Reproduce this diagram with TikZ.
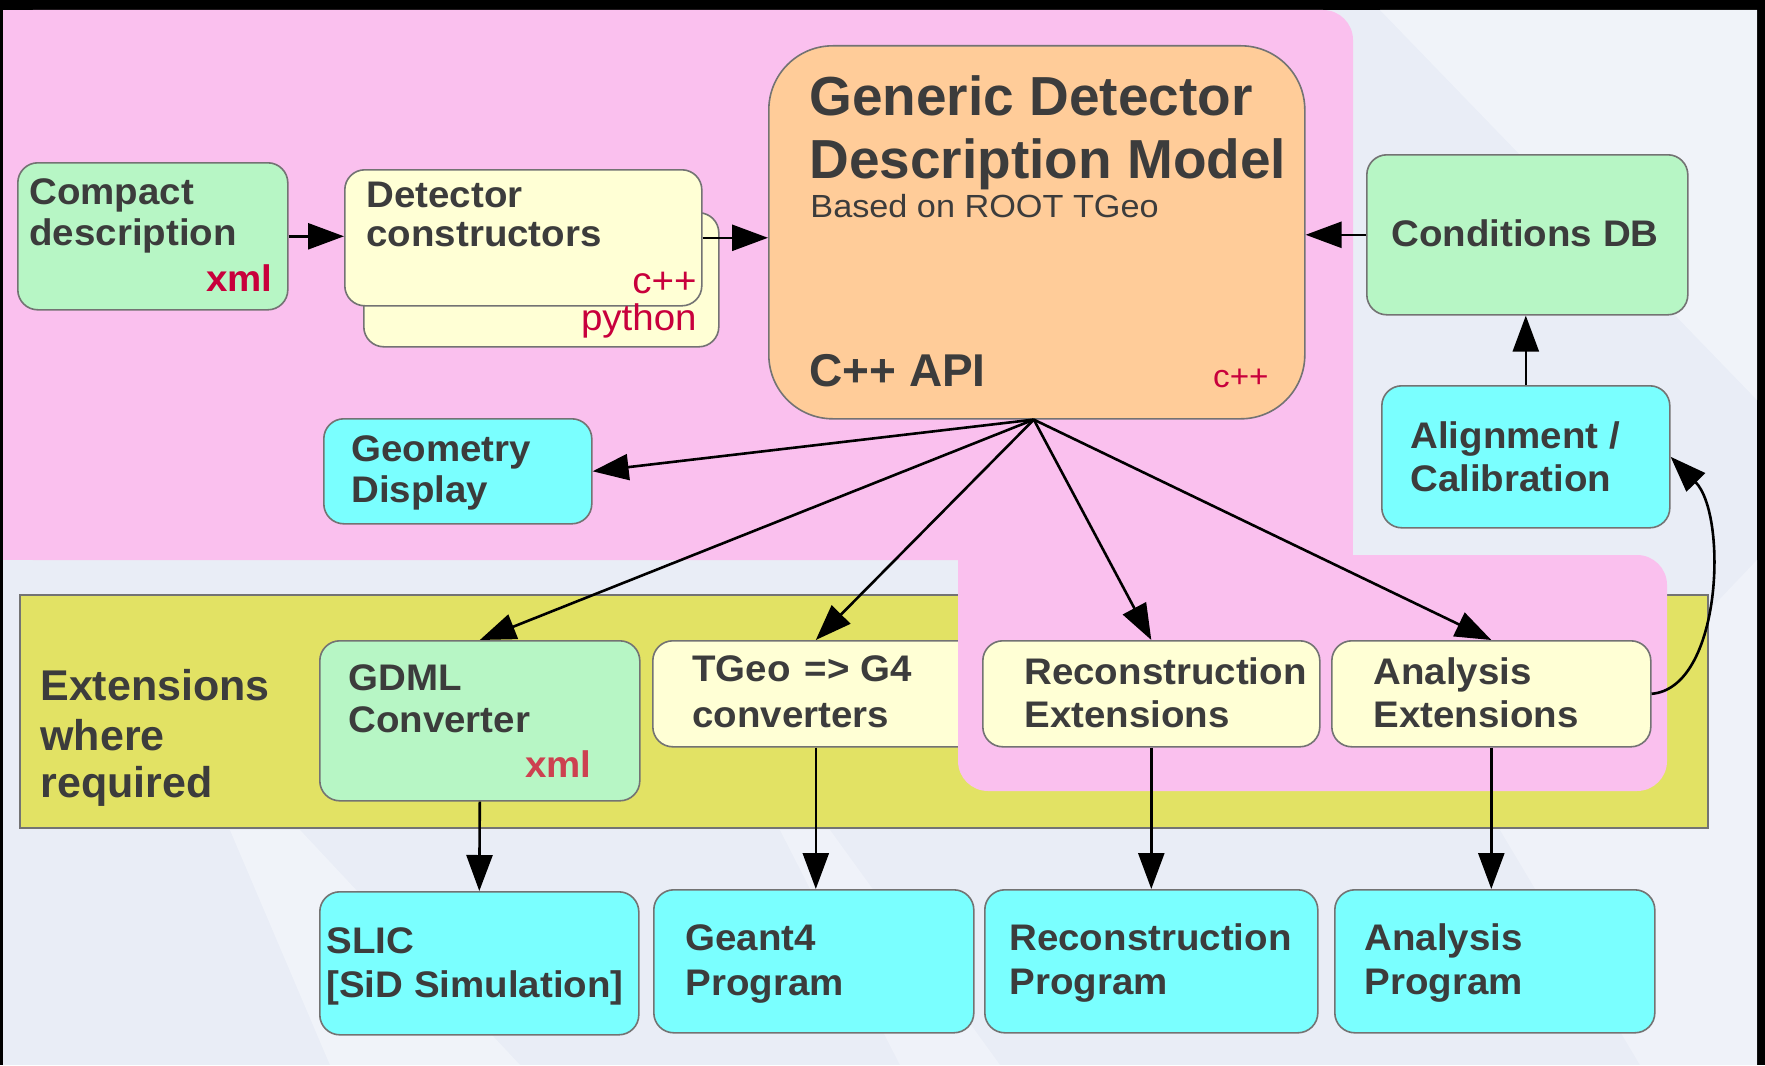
\documentclass[tikz,border=0pt]{standalone}
\usepackage{fontspec}
\setmainfont{Liberation Sans}
\newfontfamily\bodyfont{Liberation Sans}[FakeStretch=1.04]
\newfontfamily\basedfont{Liberation Sans}[FakeStretch=1.07]
\usetikzlibrary{arrows.meta}
\definecolor{bgc}{RGB}{233,237,246}
\definecolor{bglight}{RGB}{244,246,251}
\definecolor{pinkc}{RGB}{250,192,238}
\definecolor{yelc}{RGB}{226,226,100}
\definecolor{greenc}{RGB}{183,246,197}
\definecolor{creamc}{RGB}{255,255,213}
\definecolor{cyanc}{RGB}{122,255,255}
\definecolor{orangec}{RGB}{255,204,153}
\definecolor{txtc}{RGB}{60,60,60}
\definecolor{redc}{RGB}{200,0,60}
\definecolor{redb}{RGB}{205,65,80}
\definecolor{linec}{RGB}{115,115,115}
\begin{document}
\begin{tikzpicture}[x=0.5pt,y=-0.5pt,
  box/.style={draw=linec, line width=0.8pt, rounded corners=10pt, inner sep=0pt, anchor=north west},
  lbl/.style={inner sep=0pt, anchor=base west, text=txtc, font=\bodyfont\fontsize{18.5}{22}\selectfont\bfseries},
  biglbl/.style={inner sep=0pt, anchor=base west, text=txtc, font=\fontsize{21.5}{25}\selectfont\bfseries},
  titlelbl/.style={inner sep=0pt, anchor=base west, text=txtc, font=\fontsize{27.5}{32}\selectfont\bfseries},
  langb/.style={inner sep=0pt, anchor=base east, font=\bodyfont\fontsize{18.5}{22}\selectfont\bfseries},
  langr/.style={inner sep=0pt, anchor=base east, text=redc, font=\bodyfont\fontsize{18.5}{22}\selectfont},
  arr/.style={line width=1.3pt, -{Triangle[length=18pt,width=13pt]}},
]
\useasboundingbox (0,0) rectangle (1765,1065);
% frame and background
\fill[black] (0,0) rectangle (1765,1065);
\fill[bgc] (3,10) rectangle (1757,1065);
\fill[bglight, opacity=0.7] (1380,10) -- (1757,10) -- (1757,400) -- cycle;
\fill[bglight, opacity=0.7] (230,830) -- (300,830) -- (520,1065) -- (330,1065) -- cycle;
\fill[bglight, opacity=0.6] (780,830) -- (830,830) -- (1000,1065) -- (900,1065) -- cycle;
\fill[bglight, opacity=0.6] (1500,830) -- (1757,560) -- (1757,1065) -- (1640,1065) -- cycle;
% upper pink region
\fill[pinkc, rounded corners=15pt] (3,10) rectangle (1353,560);
\fill[pinkc] (3,10) rectangle (300,560);
\fill[pinkc] (3,300) rectangle (1353,560);
% yellow band
\fill[yelc, draw=linec, line width=0.6pt] (20,595) rectangle (1708,828);

% upper boxes
\node[box, fill=greenc, minimum width=135pt, minimum height=73.5pt] (compact) at (17,162) {};
\node[box, fill=creamc, minimum width=177.5pt, minimum height=67pt] (detb) at (363,212) {};
\node[box, fill=creamc, minimum width=178.5pt, minimum height=68pt] (detf) at (344,169) {};
\node[box, fill=orangec, rounded corners=32pt, minimum width=268pt, minimum height=186.5pt] (generic) at (768,45) {};
\node[box, fill=greenc, minimum width=160.5pt, minimum height=80pt] (cond) at (1366,154) {};
\node[box, fill=cyanc, minimum width=144pt, minimum height=71pt] (align) at (1381,385) {};
\node[box, fill=cyanc, minimum width=134pt, minimum height=52.5pt] (geom) at (323,418) {};

% middle row
\node[box, fill=greenc, minimum width=160pt, minimum height=80pt] (gdml) at (319,640) {};
\node[box, fill=creamc, minimum width=163pt, minimum height=53pt] (tgeo) at (652,640) {};

% lower pink region
\fill[pinkc, rounded corners=15pt] (958,555) rectangle (1667,791);
\fill[pinkc] (958,555) rectangle (1150,700);

\node[box, fill=creamc, minimum width=168.5pt, minimum height=53pt] (recext) at (982,640) {};
\node[box, fill=creamc, minimum width=159.5pt, minimum height=53pt] (anaext) at (1331,640) {};

% bottom row
\node[box, fill=cyanc, minimum width=159.5pt, minimum height=71.5pt] (slic) at (319,891) {};
\node[box, fill=cyanc, minimum width=160pt, minimum height=71.5pt] (geant) at (653,889) {};
\node[box, fill=cyanc, minimum width=166.5pt, minimum height=71.5pt] (recprog) at (984,889) {};
\node[box, fill=cyanc, minimum width=160pt, minimum height=71.5pt] (anaprog) at (1334,889) {};

% texts
\node[lbl] (t1) at (29,204) {Compact};
\node[lbl] (t2) at (29,245) {description};
\node[langb, text=redc] (t3) at (273,291) {xml};
\node[lbl] (t4) at (366,207) {Detector};
\node[lbl] (t5) at (366,246) {constructors};
\node[langr] (t6) at (697,293) {c++};
\node[langr] (t7) at (697,330) {python};
\node[titlelbl] (t8) at (809,115) {Generic Detector};
\node[titlelbl] (t9) at (809,178) {Description Model};
\node[inner sep=0pt, anchor=base west, text=txtc, font=\basedfont\fontsize{16}{19}\selectfont] (t10) at (810,217) {Based on ROOT TGeo};
\node[inner sep=0pt, anchor=base west, text=txtc, font=\fontsize{23}{27}\selectfont\bfseries] (t11) at (809,386) {C++ API};
\node[inner sep=0pt, anchor=base east, text=redc, font=\bodyfont\fontsize{16}{19}\selectfont] (t12) at (1269,387) {c++};
\node[lbl] (t13) at (1391,246) {Conditions DB};
\node[lbl] (t14) at (1410,448) {Alignment /};
\node[lbl] (t15) at (1410,491) {Calibration};
\node[lbl] (t16) at (351,461) {Geometry};
\node[lbl] (t17) at (351,502) {Display};
\node[biglbl] (t18) at (40,700) {Extensions};
\node[biglbl] (t19) at (40,750) {where};
\node[biglbl] (t20) at (40,797) {required};
\node[lbl] (t21) at (348,690) {GDML};
\node[lbl] (t22) at (348,732) {Converter};
\node[langb, text=redb] (t23) at (592,777) {xml};
\node[lbl] (t24) at (692,681) {TGeo\hspace{7pt}=> G4};
\node[lbl] (t25) at (692,727) {converters};
\node[lbl] (t26) at (1024,684) {Reconstruction};
\node[lbl] (t27) at (1024,727) {Extensions};
\node[lbl] (t28) at (1373,684) {Analysis};
\node[lbl] (t29) at (1373,727) {Extensions};
\node[lbl] (t30) at (326,953) {SLIC};
\node[lbl] (t31) at (326,997) {[SiD Simulation]};
\node[lbl] (t32) at (685,950) {Geant4};
\node[lbl] (t33) at (685,995) {Program};
\node[lbl] (t34) at (1009,950) {Reconstruction};
\node[lbl] (t35) at (1009,994) {Program};
\node[lbl] (t36) at (1364,950) {Analysis};
\node[lbl] (t37) at (1364,994) {Program};

% connectors
\draw[arr] (compact.east) -- (compact.east -| detf.west);
\draw[arr] (detf.east) -- (detf.east -| generic.west);
\draw[arr] (cond.west) -- (cond.west -| generic.east);
\draw[arr] (align.north) -- (align.north |- cond.south);
\coordinate (hub) at ([xshift=-1.5pt]generic.south);
\draw[arr] (hub) -- (geom.east);
\draw[arr] (hub) -- (gdml.north);
\draw[arr] (hub) -- (tgeo.north);
\draw[arr] (hub) -- (recext.north);
\draw[arr] (hub) -- (anaext.north);
\draw[arr] (gdml.south) -- (slic.north);
\draw[arr] (tgeo.south) -- (tgeo.south |- geant.north);
\draw[arr] (recext.south) -- (recext.south |- recprog.north);
\draw[arr] (anaext.south) -- (anaext.south |- anaprog.north);
\draw[arr] (anaext.east) .. controls (1722,688) and (1728,515) .. (align.east);
\end{tikzpicture}
\end{document}
